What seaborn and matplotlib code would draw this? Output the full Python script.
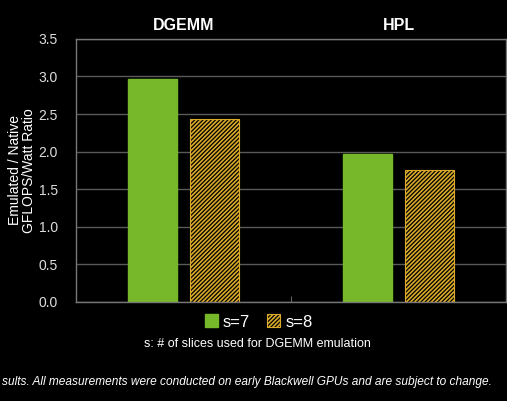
import pandas as pd
import matplotlib.pyplot as plt
import seaborn as sns

benchmarks = ['DGEMM', 'HPL']
slices = ['s=7', 's=8']
ratio_s7 = [2.97, 1.97]
ratio_s8 = [2.44, 1.75]

df = pd.DataFrame({
    'bench': benchmarks * 2,
    'slices': [slices[0]] * 2 + [slices[1]] * 2,
    'ratio': ratio_s7 + ratio_s8,
})

green = '#76b82a'
gold = '#d9aa2a'
grid_c = '#5a5a5a'

sns.set_style('dark')
plt.rcParams['font.family'] = ['Liberation Sans', 'DejaVu Sans']
plt.rcParams['hatch.linewidth'] = 1.2

fig = plt.figure(figsize=(5.07, 4.01), dpi=100, facecolor='black')
ax = fig.add_axes([0.150, 0.247, 0.848, 0.656])
ax.set_facecolor('black')

sns.barplot(data=df, x='bench', y='ratio', hue='slices', order=benchmarks,
            hue_order=slices, palette=[green, 'black'], width=0.57, gap=0.2,
            saturation=1, legend=False, ax=ax)

for bar in ax.containers[0]:
    bar.set_edgecolor(green)
for bar in ax.containers[1]:
    bar.set_facecolor('black')
    bar.set_edgecolor(gold)
    bar.set_hatch('////////')
    bar.set_linewidth(0.8)

ax.set_xlim(-0.5, 1.5)
ax.set_ylim(0, 3.5)
ax.set_yticks([0, 0.5, 1.0, 1.5, 2.0, 2.5, 3.0, 3.5])
ax.set_yticklabels([f'{v:.1f}' for v in ax.get_yticks()])
ax.yaxis.grid(True, color=grid_c, linewidth=1)
ax.xaxis.grid(False)
ax.set_axisbelow(True)

ax.xaxis.tick_top()
ax.set_xticks([0, 1])
ax.set_xticklabels(benchmarks, fontsize=11.5, fontweight='bold', color='white')
ax.tick_params(axis='x', which='major', length=0, pad=4)
ax.set_xticks([0.5], minor=True)
ax.tick_params(axis='x', which='minor', bottom=True, top=False, direction='in',
               length=4, color='#777777')
ax.tick_params(axis='y', length=0, labelsize=10, labelcolor='#dddddd', pad=13)
ax.set_xlabel('')
ax.set_ylabel('Emulated / Native\nGFLOPS/Watt Ratio', color='white', fontsize=10,
              labelpad=2, linespacing=1.0)

for s in ax.spines.values():
    s.set_visible(True)
    s.set_color('#777777')
    s.set_linewidth(1)

handles = [ax.containers[0][0], ax.containers[1][0]]
fig.legend(handles, slices, loc='center', bbox_to_anchor=(0.51, 0.197),
           ncol=2, frameon=False, fontsize=12, labelcolor='white',
           handlelength=0.8, handleheight=0.8, handletextpad=0.3,
           columnspacing=1.0)

fig.text(0.507, 0.143, 's: # of slices used for DGEMM emulation', ha='center',
         va='center', color='white', fontsize=9)
fig.text(0.004, 0.048, 'sults. All measurements were conducted on early Blackwell '
         'GPUs and are subject to change.', ha='left', va='center',
         color='white', fontsize=8.6, style='italic')

fig.savefig('out.png', dpi=100, facecolor='black')
